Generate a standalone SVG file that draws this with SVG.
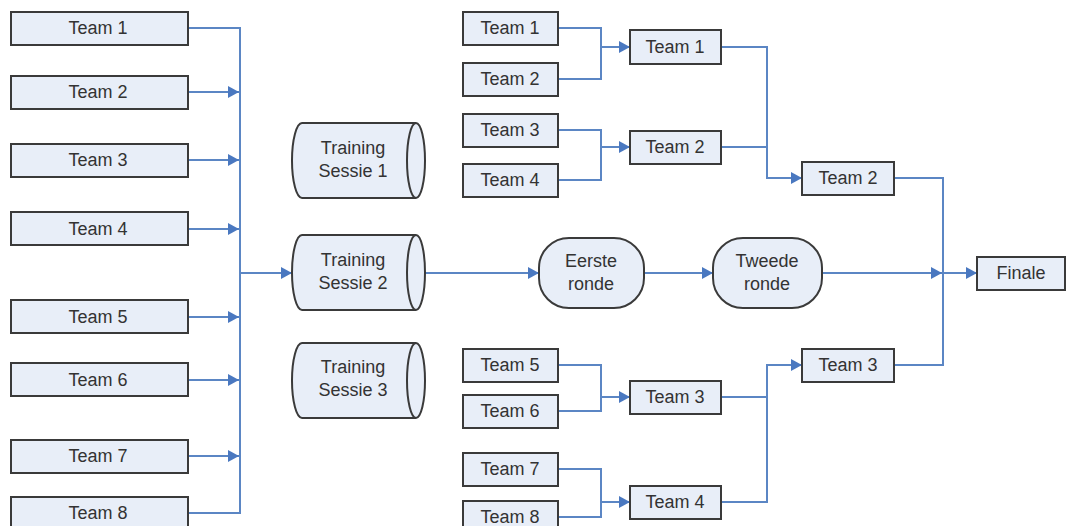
<svg xmlns="http://www.w3.org/2000/svg" width="1068" height="526" viewBox="0 0 1068 526">
<style>
.box{fill:#e8eef8;stroke:#3a3a3a;stroke-width:2}
.t{font-family:"Liberation Sans",Arial,sans-serif;font-size:18px;fill:#333;text-anchor:middle;dominant-baseline:central}
.ln{fill:none;stroke:#5b86c4;stroke-width:2}
</style>
<defs>
<marker id="ah" markerUnits="userSpaceOnUse" markerWidth="12" markerHeight="12" refX="11" refY="6" orient="auto">
<path d="M0,0 L11,6 L0,12 Z" fill="#4a78c0"/>
</marker>
</defs>
<rect width="1068" height="526" fill="#fff"/>

<g id="connectors">
<path class="ln" d="M188,28 H240 V513 H188"/>
<path class="ln" d="M188,92 H239" marker-end="url(#ah)"/>
<path class="ln" d="M188,160 H239" marker-end="url(#ah)"/>
<path class="ln" d="M188,229 H239" marker-end="url(#ah)"/>
<path class="ln" d="M188,317 H239" marker-end="url(#ah)"/>
<path class="ln" d="M188,380 H239" marker-end="url(#ah)"/>
<path class="ln" d="M188,456 H239" marker-end="url(#ah)"/>
<path class="ln" d="M240,273 H292" marker-end="url(#ah)"/>
<path class="ln" d="M425,273 H539" marker-end="url(#ah)"/>
<path class="ln" d="M644,273 H713" marker-end="url(#ah)"/>
<path class="ln" d="M822,273 H942" marker-end="url(#ah)"/>
<path class="ln" d="M943,273 H977" marker-end="url(#ah)"/>
<path class="ln" d="M558,28 H601 V79 H558"/>
<path class="ln" d="M601,47 H630" marker-end="url(#ah)"/>
<path class="ln" d="M558,130 H601 V180 H558"/>
<path class="ln" d="M601,147 H630" marker-end="url(#ah)"/>
<path class="ln" d="M558,365 H601 V411 H558"/>
<path class="ln" d="M601,397 H630" marker-end="url(#ah)"/>
<path class="ln" d="M558,469 H601 V517 H558"/>
<path class="ln" d="M601,502 H630" marker-end="url(#ah)"/>
<path class="ln" d="M721,47 H767 V178 H802" marker-end="url(#ah)"/>
<path class="ln" d="M721,147 H767"/>
<path class="ln" d="M721,502 H767 V365 H802" marker-end="url(#ah)"/>
<path class="ln" d="M721,397 H767"/>
<path class="ln" d="M894,178 H943 V365 H894"/>
</g>

<g id="L1"><rect class="box" x="11" y="12" width="177" height="33"/><text class="t" x="98" y="28">Team 1</text></g>
<g id="L2"><rect class="box" x="11" y="76" width="177" height="33"/><text class="t" x="98" y="92">Team 2</text></g>
<g id="L3"><rect class="box" x="11" y="144" width="177" height="33"/><text class="t" x="98" y="160">Team 3</text></g>
<g id="L4"><rect class="box" x="11" y="212" width="177" height="33"/><text class="t" x="98" y="229">Team 4</text></g>
<g id="L5"><rect class="box" x="11" y="300" width="177" height="33"/><text class="t" x="98" y="317">Team 5</text></g>
<g id="L6"><rect class="box" x="11" y="363" width="177" height="33"/><text class="t" x="98" y="380">Team 6</text></g>
<g id="L7"><rect class="box" x="11" y="440" width="177" height="33"/><text class="t" x="98" y="456">Team 7</text></g>
<g id="L8"><rect class="box" x="11" y="497" width="177" height="33"/><text class="t" x="98" y="513">Team 8</text></g>

<g id="S1">
<path class="box" d="M302,123 A10,37.5 0 0 0 302,198 L416,198 A9,37.5 0 0 0 416,123 Z"/>
<path class="box" style="fill:none" d="M416,123 A9,37.5 0 0 0 416,198"/>
<text class="t" x="353" y="148">Training</text><text class="t" x="353" y="171">Sessie 1</text>
</g>
<g id="S2">
<path class="box" d="M302,235 A10,37.5 0 0 0 302,310 L416,310 A9,37.5 0 0 0 416,235 Z"/>
<path class="box" style="fill:none" d="M416,235 A9,37.5 0 0 0 416,310"/>
<text class="t" x="353" y="260">Training</text><text class="t" x="353" y="283">Sessie 2</text>
</g>
<g id="S3">
<path class="box" d="M302,343 A10,37.5 0 0 0 302,418 L416,418 A9,37.5 0 0 0 416,343 Z"/>
<path class="box" style="fill:none" d="M416,343 A9,37.5 0 0 0 416,418"/>
<text class="t" x="353" y="367">Training</text><text class="t" x="353" y="390">Sessie 3</text>
</g>

<g id="E1"><rect class="box" x="539" y="238" width="105" height="70" rx="30" ry="30"/><text class="t" x="591" y="261">Eerste</text><text class="t" x="591" y="284">ronde</text></g>
<g id="E2"><rect class="box" x="713" y="238" width="109" height="70" rx="30" ry="30"/><text class="t" x="767" y="261">Tweede</text><text class="t" x="767" y="284">ronde</text></g>

<g id="R1"><rect class="box" x="463" y="12" width="95" height="33"/><text class="t" x="510" y="28">Team 1</text></g>
<g id="R2"><rect class="box" x="463" y="63" width="95" height="33"/><text class="t" x="510" y="79">Team 2</text></g>
<g id="R3"><rect class="box" x="463" y="114" width="95" height="33"/><text class="t" x="510" y="130">Team 3</text></g>
<g id="R4"><rect class="box" x="463" y="164" width="95" height="33"/><text class="t" x="510" y="180">Team 4</text></g>
<g id="R5"><rect class="box" x="463" y="349" width="95" height="33"/><text class="t" x="510" y="365">Team 5</text></g>
<g id="R6"><rect class="box" x="463" y="395" width="95" height="33"/><text class="t" x="510" y="411">Team 6</text></g>
<g id="R7"><rect class="box" x="463" y="453" width="95" height="33"/><text class="t" x="510" y="469">Team 7</text></g>
<g id="R8"><rect class="box" x="463" y="501" width="95" height="33"/><text class="t" x="510" y="517">Team 8</text></g>

<g id="Q1"><rect class="box" x="630" y="30" width="91" height="34"/><text class="t" x="675" y="47">Team 1</text></g>
<g id="Q2"><rect class="box" x="630" y="131" width="91" height="33"/><text class="t" x="675" y="147">Team 2</text></g>
<g id="Q3"><rect class="box" x="630" y="381" width="91" height="33"/><text class="t" x="675" y="397">Team 3</text></g>
<g id="Q4"><rect class="box" x="630" y="486" width="91" height="33"/><text class="t" x="675" y="502">Team 4</text></g>

<g id="H2"><rect class="box" x="802" y="162" width="92" height="33"/><text class="t" x="848" y="178">Team 2</text></g>
<g id="H3"><rect class="box" x="802" y="349" width="92" height="33"/><text class="t" x="848" y="365">Team 3</text></g>

<g id="F"><rect class="box" x="977" y="257" width="88" height="33"/><text class="t" x="1021" y="273">Finale</text></g>
</svg>
